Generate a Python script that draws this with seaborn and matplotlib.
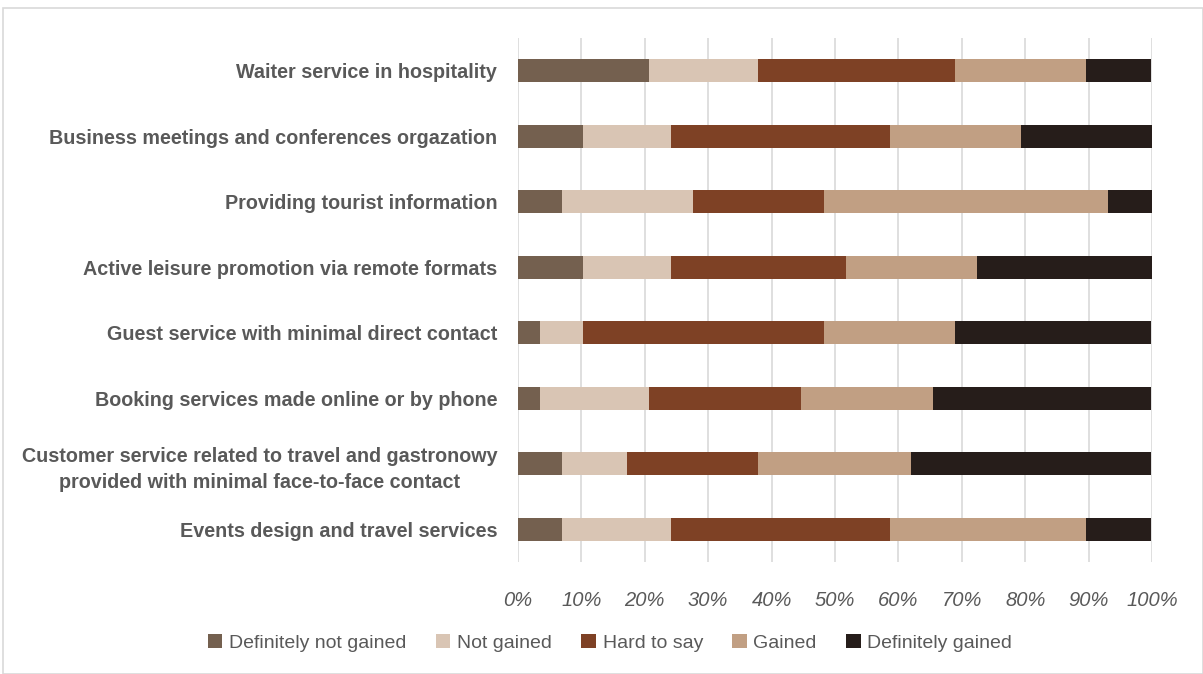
import numpy as np
import pandas as pd
import matplotlib
matplotlib.use("Agg")
import matplotlib.pyplot as plt
import seaborn as sns
from matplotlib.patches import Patch, Rectangle

categories = [
    "Waiter service in hospitality",
    "Business meetings and conferences orgazation",
    "Providing tourist information",
    "Active leisure promotion via remote formats",
    "Guest service with minimal direct contact",
    "Booking services made online or by phone",
    "Customer service related to travel and gastronowy\nprovided with minimal face-to-face contact",
    "Events design and travel services",
]
series = ["Definitely not gained", "Not gained", "Hard to say", "Gained", "Definitely gained"]
definitely_not_gained = [20.7, 10.3, 6.9, 10.3, 3.4, 3.4, 6.9, 6.9]
not_gained = [17.2, 13.8, 20.7, 13.8, 6.9, 17.2, 10.3, 17.2]
hard_to_say = [31.0, 34.5, 20.7, 27.6, 37.9, 24.1, 20.7, 34.5]
gained = [20.7, 20.7, 44.8, 20.7, 20.7, 20.7, 24.1, 31.0]
definitely_gained = [10.3, 20.7, 6.9, 27.6, 31.0, 34.5, 37.9, 10.3]
colors = ["#74604f", "#d9c5b4", "#7e4125", "#c19f83", "#261d1a"]

values = [definitely_not_gained, not_gained, hard_to_say, gained, definitely_gained]
df = pd.DataFrame({s: v for s, v in zip(series, values)}, index=categories)
cum = df.cumsum(axis=1)

sns.set_theme(style="white")
plt.rcParams['font.family'] = ['Liberation Sans', 'DejaVu Sans']

fig = plt.figure(figsize=(12.03, 6.74), dpi=100)
ax = fig.add_axes([518/1203, 1 - 562/674, (1152-518)/1203, (562-38)/674])

for s, c in reversed(list(zip(series, colors))):
    sns.barplot(x=cum[s].values, y=categories, color=c, orient="h",
                width=0.35, ax=ax, saturation=1, edgecolor="none")

ax.set_xlim(0, 100)
ax.set_ylim(7.5, -0.5)
ax.set_xticks(np.arange(0, 101, 10))
ax.set_xticklabels([f"{v}%" for v in range(0, 101, 10)],
                   fontsize=14.5, style="italic", color="#595959")
ax.tick_params(axis='x', length=0, pad=21)
ax.tick_params(axis='y', length=0, pad=15)
for lbl in ax.get_yticklabels():
    lbl.set_fontsize(14.2)
    lbl.set_fontweight("bold")
    lbl.set_color("#595959")
    lbl.set_horizontalalignment("right")
    lbl.set_multialignment("center")
    lbl.set_linespacing(1.45)
ax.grid(axis='x', color="#d9d9d9", linewidth=1.2)
ax.set_axisbelow(True)
for sp in ax.spines.values():
    sp.set_visible(False)
ax.set_xlabel("")
ax.set_ylabel("")

handles = [Patch(facecolor=c, edgecolor="none") for c in colors]
fig.legend(handles, series, loc="center", bbox_to_anchor=(610/1203, 1 - 643/674),
           ncol=5, frameon=False, handlelength=0.75, handleheight=0.75,
           handletextpad=0.35, columnspacing=1.5,
           prop={'size': 14}, labelcolor="#595959")

fig.patches.append(Rectangle((3/1203, 0), 1 - 3/1203, 1 - 8/674, transform=fig.transFigure,
                             fill=False, edgecolor="#d9d9d9", linewidth=1.2))

fig.savefig("out.png", dpi=100)
